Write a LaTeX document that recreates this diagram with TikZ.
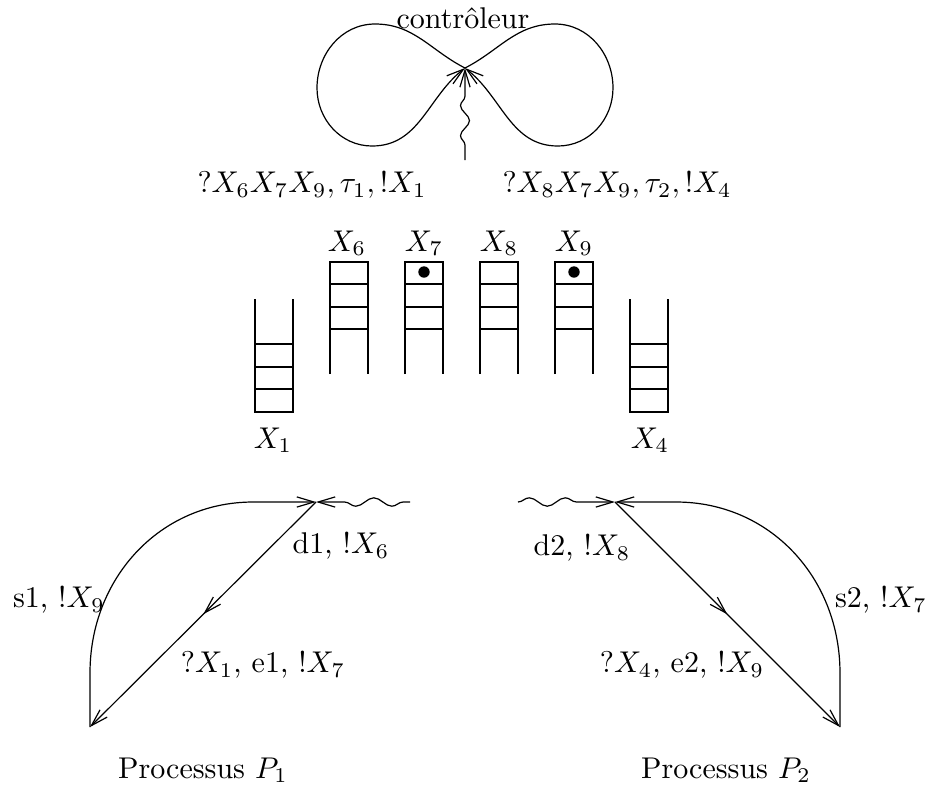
\documentclass[tikz,border=0pt]{standalone}
\usetikzlibrary{arrows.meta,decorations.pathmorphing,decorations.markings}
\begin{document}
\begin{tikzpicture}[x=0.33333pt,y=0.33333pt,line width=0.4pt,
  tip/.style={-{Straight Barb[length=5.7pt,width=3.4pt]}},
  midarrow/.style={postaction={decorate},decoration={markings,mark=at position 0.5 with {\arrow{Straight Barb[length=5.7pt,width=3.4pt]}}}},
  queue/.style={line width=0.45pt},
  token/.style={fill=black}]
\useasboundingbox (0,0) rectangle (930,-790);

% ---------- controller ----------
\coordinate (c) at (465,-68);
\coordinate (w0) at (465,-160);
\node (ctl) at (463,-18) {contr\^oleur};
\draw[tip] (c) to[out=153,in=0] (375,-24) to[out=180,in=90] (317,-88)
  to[out=270,in=180] (372,-146) to[out=0,in=218] (c);
\draw[tip] (c) to[out=27,in=180] (555,-24) to[out=0,in=90] (613,-88)
  to[out=270,in=0] (558,-146) to[out=180,in=-38] (c);
\draw[tip,decorate,decoration={snake,amplitude=1.5pt,segment length=10pt,pre length=5pt,post length=9pt}] (w0) -- (c);
\node (l1) at (312,-185) {$?X_6X_7X_9, \tau_1, !X_1$};
\node (l2) at (617,-185) {$?X_8X_7X_9, \tau_2, !X_4$};

% ---------- queues ----------
\foreach \x in {330,405,480,555}{
  \draw[queue] (\x,-374) -- (\x,-262) -- (\x+38,-262) -- (\x+38,-374);
  \foreach \y in {284,307,329} \draw[queue] (\x,-\y) -- (\x+38,-\y);
}
\foreach \x in {255,630}{
  \draw[queue] (\x,-299) -- (\x,-412) -- (\x+38,-412) -- (\x+38,-299);
  \foreach \y in {344,367,389} \draw[queue] (\x,-\y) -- (\x+38,-\y);
}
\fill[token] (424,-272) circle[radius=1.9pt];
\fill[token] (574,-272) circle[radius=1.9pt];
\node (q6) at (347,-243) {$X_6$};
\node (q7) at (424,-243) {$X_7$};
\node (q8) at (499,-243) {$X_8$};
\node (q9) at (574,-243) {$X_9$};
\node (q1) at (273,-440) {$X_1$};
\node (q4) at (650,-440) {$X_4$};

% ---------- process P1 ----------
\coordinate (k1) at (316,-502);
\coordinate (b1) at (90,-727);
\coordinate (v1) at (90,-673);
\coordinate (h1) at (253,-502);
\coordinate (w1) at (410,-502);
\draw[tip] (b1) -- (v1) .. controls (90,-578) and (160,-502) .. (h1) -- (k1);
\draw[tip,midarrow] (k1) -- (b1);
\draw[tip,decorate,decoration={snake,amplitude=1.4pt,segment length=12pt,pre length=2.3pt,post length=8pt}] (w1) -- (k1);
\node (d1) at (341,-546) {d1, !$X_6$};
\node (e1) at (263,-665) {?$X_1$, e1, !$X_7$};
\node (s1) at (59,-600) {s1, !$X_9$};
\node (p1) at (203,-770) {Processus $P_1$};

% ---------- process P2 ----------
\coordinate (k2) at (615,-502);
\coordinate (b2) at (840,-727);
\coordinate (v2) at (840,-673);
\coordinate (h2) at (676,-502);
\coordinate (w2) at (518,-502);
\draw[tip] (b2) -- (v2) .. controls (840,-578) and (770,-502) .. (h2) -- (k2);
\draw[tip,midarrow] (k2) -- (b2);
\draw[tip,decorate,decoration={snake,amplitude=1.4pt,segment length=12pt,pre length=0pt,post length=10pt}] (w2) -- (k2);
\node (d2) at (582,-548) {d2, !$X_8$};
\node (e2) at (682,-665) {?$X_4$, e2, !$X_9$};
\node (s2) at (881,-600) {s2, !$X_7$};
\node (p2) at (726,-770) {Processus $P_2$};
\end{tikzpicture}
\end{document}
